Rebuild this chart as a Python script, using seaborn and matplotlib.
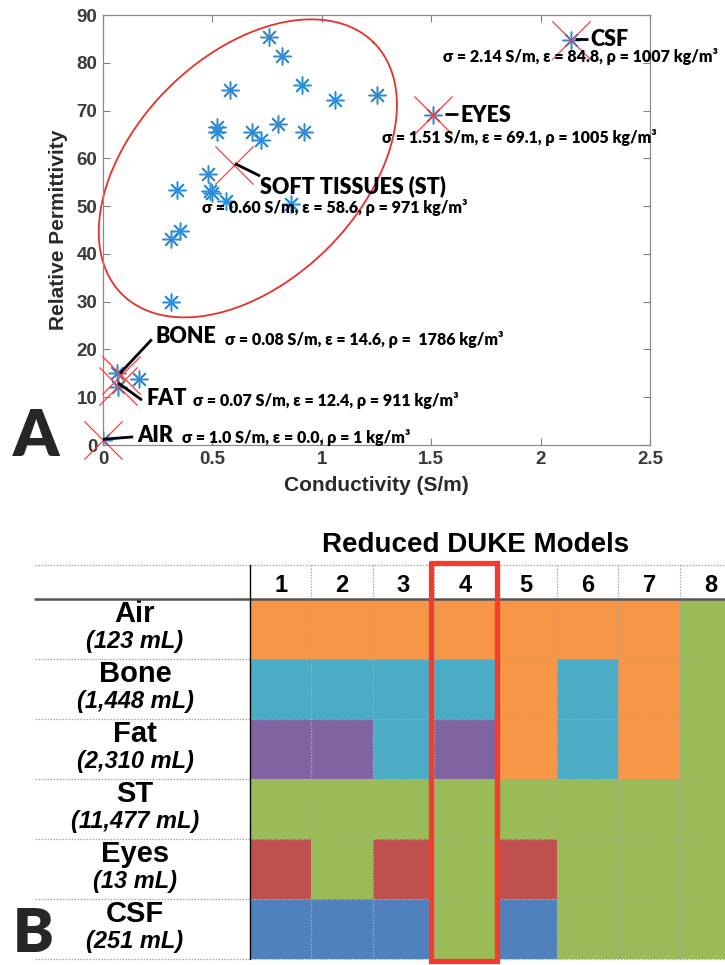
import numpy as np
import pandas as pd
import matplotlib
matplotlib.use("Agg")
import matplotlib.pyplot as plt
from matplotlib.colors import ListedColormap
import seaborn as sns

# ---------------- data ----------------
# Panel A: individual tissues (blue asterisks)
conductivity = [0.76, 0.82, 0.58, 0.91, 1.06, 1.25, 0.52, 0.52, 0.68, 0.72, 0.80, 0.92,
                0.48, 0.34, 0.49, 0.50, 0.56, 0.86, 0.35, 0.31, 0.31, 0.065, 0.07, 0.166,
                0.0, 2.14, 1.51]
permittivity = [85.3, 81.4, 74.4, 75.4, 72.2, 73.2, 66.6, 65.5, 65.5, 63.8, 67.2, 65.5,
                56.7, 53.3, 53.2, 52.7, 51.0, 50.4, 44.8, 43.2, 29.9, 15.0, 12.2, 13.8,
                1.0, 84.8, 69.1]
# tissue classes (red crosses)
class_names = ["CSF", "EYES", "SOFT TISSUES (ST)", "BONE", "FAT", "AIR"]
class_sigma = [2.14, 1.51, 0.60, 0.08, 0.07, 0.0]
class_eps = [84.8, 69.1, 58.6, 14.6, 12.4, 1.0]
class_desc = ["σ = 2.14 S/m, ε = 84.8, ρ = 1007 kg/m³",
              "σ = 1.51 S/m, ε = 69.1, ρ = 1005 kg/m³",
              "σ = 0.60 S/m, ε = 58.6, ρ = 971 kg/m³",
              "σ = 0.08 S/m, ε = 14.6, ρ =  1786 kg/m³",
              "σ = 0.07 S/m, ε = 12.4, ρ = 911 kg/m³",
              "σ = 1.0 S/m, ε = 0.0, ρ = 1 kg/m³"]
x_ticks = [0, 0.5, 1, 1.5, 2, 2.5]
y_ticks = [0, 10, 20, 30, 40, 50, 60, 70, 80, 90]

# Panel B: reduced DUKE models
models = ["1", "2", "3", "4", "5", "6", "7", "8"]
tissues = ["Air", "Bone", "Fat", "ST", "Eyes", "CSF"]
volumes = ["(123 mL)", "(1,448 mL)", "(2,310 mL)", "(11,477 mL)", "(13 mL)", "(251 mL)"]
# assigned tissue class per model: 0 air, 1 bone, 2 fat, 3 ST, 4 eyes, 5 CSF
assign_air = [0, 0, 0, 0, 0, 0, 0, 3]
assign_bone = [1, 1, 1, 1, 0, 1, 0, 3]
assign_fat = [2, 2, 1, 2, 0, 1, 0, 3]
assign_st = [3, 3, 3, 3, 3, 3, 3, 3]
assign_eyes = [4, 3, 4, 3, 4, 3, 3, 3]
assign_csf = [5, 5, 5, 3, 5, 3, 3, 3]
class_colors = ["#F79646", "#4BACC6", "#8064A2", "#9BBB59", "#C0504D", "#4F81BD"]
highlight_model = 4

# ---------------- style ----------------
sns.set_theme(style="ticks")
plt.rcParams["font.family"] = ["Liberation Sans", "DejaVu Sans"]
ANN = ["Lato", "DejaVu Sans"]

W, H = 725, 965
fig = plt.figure(figsize=(W / 100, H / 100), dpi=100)

# ---------------- Panel A ----------------
axA = fig.add_axes([103 / W, 1 - 445 / H, (650 - 103) / W, (445 - 15) / H])
dfA = pd.DataFrame({"sigma": conductivity, "eps": permittivity})
sns.scatterplot(data=dfA, x="sigma", y="eps", ax=axA, marker=(8, 2, 0), s=150,
                color="#2e8ddb", linewidth=1.1, zorder=3, legend=False)
dfC = pd.DataFrame({"sigma": class_sigma, "eps": class_eps})
sns.scatterplot(data=dfC, x="sigma", y="eps", ax=axA, marker="x", s=760,
                color="#ff3b3b", linewidth=0.9, zorder=4, legend=False, clip_on=False)

# soft-tissue ellipse (shape drawn in screen-pixel space, converted to data units)
sx, sy = 218.8, 4.78          # pixels per data unit
t = np.linspace(0, 2 * np.pi, 400)
a_px, b_px = 178.0, 113.0
dx = (a_px * np.cos(t) - b_px * np.sin(t)) / np.sqrt(2)
dy = (a_px * np.cos(t) + b_px * np.sin(t)) / np.sqrt(2)
axA.plot(0.662 + dx / sx, 57.9 + dy / sy, color="#e8302a", lw=1.3, zorder=2, clip_on=False)

axA.set_xlim(0, 2.5)
axA.set_ylim(0, 90)
axA.set_xticks(x_ticks)
axA.set_xticklabels(["0", "0.5", "1", "1.5", "2", "2.5"])
axA.set_yticks(y_ticks)
axA.tick_params(direction="in", length=5, width=0.8, colors="#808080",
                labelcolor="#3a3a3a", labelsize=13.5, top=True, right=True, pad=4)
for lab in axA.get_xticklabels() + axA.get_yticklabels():
    lab.set_fontweight("bold")
for sp in axA.spines.values():
    sp.set_visible(True)
    sp.set_color("#8a8a8a")
    sp.set_linewidth(0.9)
axA.set_xlabel("Conductivity (S/m)", fontsize=15, fontweight="bold", color="#2a2a2a", labelpad=6)
axA.set_ylabel("Relative Permittivity", fontsize=15, fontweight="bold", color="#2a2a2a", labelpad=6)

# annotations: (leader start, leader end, name pos, desc pos)
leaders = [((2.157, 84.9), (2.217, 84.9)),
           ((1.563, 69.2), (1.622, 69.2)),
           ((0.603, 58.9), (0.718, 56.3)),
           ((0.078, 15.0), (0.223, 22.1)),
           ((0.069, 13.0), (0.178, 9.4)),
           ((0.0, 1.2), (0.138, 1.7))]
name_pos = [(2.226, 84.9), (1.632, 69.0), (0.718, 54.2), (0.238, 22.8), (0.201, 9.8), (0.155, 1.9)]
desc_pos = [(1.554, 81.3), (1.275, 64.4), (0.452, 49.8), (0.558, 22.0), (0.411, 9.4), (0.361, 1.5)]
for (p0, p1), nm, npos, ds, dpos in zip(leaders, class_names, name_pos, class_desc, desc_pos):
    axA.plot([p0[0], p1[0]], [p0[1], p1[1]], color="black", lw=2.0, zorder=5,
             solid_capstyle="butt", clip_on=False)
    axA.text(npos[0], npos[1], nm, family=ANN, fontweight="heavy", fontsize=15.5,
             va="center", ha="left", color="black", zorder=6)
    axA.text(dpos[0], dpos[1], ds, family=ANN, fontweight="heavy", fontsize=11.5,
             va="center", ha="left", color="black", zorder=6)

fig.text(13 / W, 1 - 456 / H, "A", fontsize=47, fontweight="heavy", family=ANN,
         va="baseline", ha="left")

# ---------------- Panel B ----------------
grid = np.array([assign_air, assign_bone, assign_fat, assign_st, assign_eyes, assign_csf])
dfB = pd.DataFrame(grid, index=tissues, columns=models)
col_w = 61.4
axB = fig.add_axes([250 / W, 1 - 959 / H, 8 * col_w / W, (959 - 599) / H])
sns.heatmap(dfB, ax=axB, cmap=ListedColormap(class_colors), vmin=-0.5, vmax=5.5,
            cbar=False, linewidths=0, xticklabels=False, yticklabels=False)
axB.set_xlabel("")
axB.set_ylabel("")
for sp in axB.spines.values():
    sp.set_visible(False)

row_h = (959 - 599) / 6.0
x_left = (35 - 250) / col_w
y_head = (565 - 599) / row_h
dot = dict(color="#a8a8a8", lw=0.9, ls=(0, (1.2, 1.2)), clip_on=False, zorder=3)
for yy in [y_head, 1, 2, 3, 4, 5, 6]:
    axB.plot([x_left, 8.5], [yy, yy], **dot)
for xx in range(1, 9):
    axB.plot([xx, xx], [y_head, 6], **dot)
axB.plot([x_left, 8.5], [0, 0], color="#555555", lw=1.8, clip_on=False, zorder=4)
axB.plot([0, 0], [y_head, 6], color="black", lw=1.0, clip_on=False, zorder=4)

for j, m in enumerate(models):
    axB.text(j + 0.5, (592 - 599) / row_h, m, ha="center", va="baseline",
             fontsize=17, fontweight="bold", color="black")
axB.text((476 - 250) / col_w, (552 - 599) / row_h, "Reduced DUKE Models", ha="center",
         va="baseline", fontsize=20, fontweight="bold", color="black")

lab_x = (135 - 250) / col_w
for i, (tn, vol) in enumerate(zip(tissues, volumes)):
    axB.text(lab_x, i + 23 / row_h, tn, ha="center", va="baseline", fontsize=21,
             fontweight="bold", color="black", clip_on=False)
    axB.text(lab_x, i + 49 / row_h, vol, ha="center", va="baseline", fontsize=17,
             fontweight="bold", fontstyle="italic", color="black", clip_on=False)

# highlight box around model 4
hx0 = highlight_model - 1 - (434.5 - 431) / col_w
hx1 = highlight_model + (497 - 496) / col_w
hy0 = (563 - 599) / row_h
hy1 = 6 + (961 - 959) / row_h
axB.plot([hx0, hx1, hx1, hx0, hx0], [hy0, hy0, hy1, hy1, hy0], color="#f53b2c", lw=3.8,
         clip_on=False, zorder=6, solid_joinstyle="miter")

fig.text(13 / W, 1 - 952 / H, "B", fontsize=44, fontweight="heavy", family=ANN,
         va="baseline", ha="left")

fig.savefig("out.png", dpi=100)
